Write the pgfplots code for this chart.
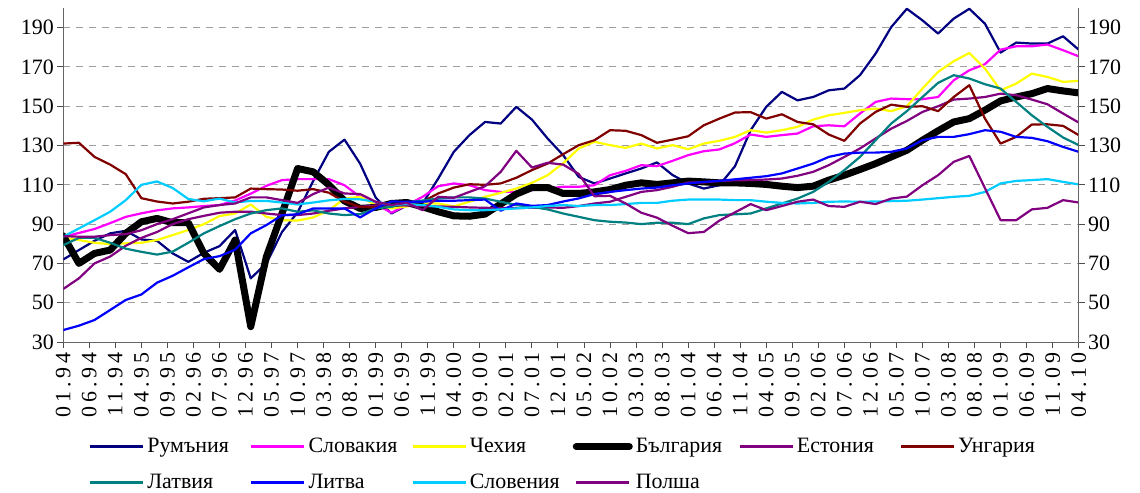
\documentclass[border=0pt]{standalone}
\usepackage{fontspec}
\setmainfont{Liberation Serif}
\usepackage{pgfplots}
\pgfplotsset{compat=1.18}
\usepackage{pgfplotstable}
\definecolor{cro}{HTML}{000080}
\definecolor{csk}{HTML}{FF00FF}
\definecolor{ccz}{HTML}{FFFF00}
\definecolor{cee}{HTML}{800080}
\definecolor{chu}{HTML}{800000}
\definecolor{clv}{HTML}{008080}
\definecolor{clt}{HTML}{0000FF}
\definecolor{csi}{HTML}{00CCFF}
\definecolor{cpl}{HTML}{800080}
\pgfplotstableread{
m ro sk cz bg ee hu lv lt si pl
0 72 83.5 83.2 84 57 131 79.3 36.1 83.6 83.9
3 76.8 85.5 81.9 70 62.4 131.4 83 38.3 87.8 83.6
6 81.5 87.5 80.5 75.1 70 124.2 83 41.2 92 83.6
9 85.3 90.5 79.8 76.8 73.5 120.3 80.5 46.3 96.3 84.4
12 86.6 93.7 80.2 85.3 79 115.4 77.5 51.4 102.2 84.9
15 82.2 95.5 80.5 91.2 83 103.2 75.9 54.2 110 86.9
18 81.5 97 81.9 92.9 86 101.5 74.5 60.2 111.7 90
21 75.1 98 84.4 90.7 90 100.5 76 63.7 108.4 92.5
24 70.8 98.5 87 90.7 92.5 101.4 80.5 68 102.8 95.5
27 75.4 99.2 90 75.1 94.2 102.9 85.3 72.2 101.6 98.5
30 78.8 99.7 94.1 67 95.8 103.2 89 73.7 103 99.7
33 87 102 95.4 81.9 96.3 103.6 92.5 77 101 100.5
36 62.4 105.5 100 37.8 96.3 108.1 95.4 85.3 101.8 103.6
39 70 109.5 93.7 73.4 95.4 107.8 97.1 89.5 101.8 103.6
42 86 112.4 92 95.4 94.6 107.6 98 94.5 101 102.2
45 96 112.9 91.8 118.3 94.6 107 96.3 95 100 100.8
48 112 112.9 93.4 116.6 95.4 107.8 97 98 101 105.3
51 126.8 112.9 97 110 96.8 106 95.4 98 102.1 108.6
54 133 109.8 103 101.8 98 101.4 94.6 98 102.8 105.6
57 120.8 103.9 103.9 98 98.8 98.8 95.1 93.4 102.6 105.3
60 103.5 100.2 99.7 98.5 99.5 98.5 98 98 101.4 101.4
63 95.4 95.8 98 100.5 99.7 99 98.8 101.5 99.7 99.7
66 99.5 99.7 99 101 99.5 100.5 101 101.4 100.2 100.8
69 100.5 103.9 100.5 98.8 99.2 101.4 102 101.4 99.7 97.1
72 113.2 109.3 100.5 96.3 99 105.6 103 101.9 98.8 103.9
75 126.8 110.7 99 94.2 98.8 108.6 103.6 101.9 97.5 103.4
78 135.3 109.8 101.4 94 98.5 110.3 103.6 102.2 97.1 106.4
81 142 107.3 103.9 95.1 98.3 110 103 102.5 97.1 109.3
84 141.2 106.4 105.9 100.2 98.2 110.7 101.4 96.8 97.5 116.6
87 149.7 106.4 108.1 105.3 98.2 113.6 99.7 100.5 98 127.3
90 143.2 107.3 111 108.6 98.3 117.5 98.8 99.3 98.5 118.8
93 133.6 108.1 114.9 108.6 98.5 120.8 97.5 99.7 99.2 121.2
96 125.1 109 121 105.6 98.3 125.6 95.4 101.5 99.7 120.3
99 114 109 128.5 105.6 99.2 130.2 93.7 103.1 99.2 115.5
102 110.7 109.8 131.9 106.4 100.5 132.7 92 105.3 99.7 104.2
105 113.2 114.9 130.2 107.6 101.4 137.8 91.2 106.4 99.7 104.4
108 115.8 117.1 128.8 109.8 103.9 137.5 90.8 107.3 100.2 100.5
111 118.3 120 131 111 106.4 135.3 90 108.1 100.8 95.8
114 121.4 119.5 128.5 110.2 107.3 131.4 90.7 108.6 100.8 93.3
117 115 122.2 130.2 111 109 133 90.7 109.8 101.9 89.2
120 110.7 125.1 128.1 111.9 111.2 134.7 90 110.7 102.5 85.4
123 108.1 127.1 131 111.5 111.2 140.3 92.9 111.5 102.5 86
126 109.8 128 132.4 111 112 143.7 94.6 112 102.5 91.8
129 119.5 131.2 134.4 111 112.3 146.8 95 112.8 102.2 96
132 137.8 135.6 137.8 110.7 112.4 147 95.4 113.6 102.2 100.2
135 149.7 134.4 136.6 110.2 112.7 143.7 98 114.4 101.4 97.1
138 157.3 135.3 137.8 109.3 113.2 145.9 100.5 115.8 100.8 99.2
141 153 136.1 139.5 108.6 114.6 142 103 118.3 100.5 101.4
144 154.7 139.8 143.2 109.3 116.6 140.8 106.4 120.8 100.8 102.5
147 158.1 140.3 145.4 112.4 120 135.6 111.5 124.2 101.4 99.2
150 159 139.8 146.6 114.9 124.2 132.4 117.5 125.9 101.5 98.8
153 165.8 146.3 148 117.8 128.5 141.2 124.2 126.4 101.4 101.4
156 176.8 152.2 148.8 120.8 133.6 147.1 132.7 126.4 101.5 100.2
159 190.3 153.9 147.5 124.2 138.6 150.8 141.2 126.8 101.7 103
162 199.6 153.6 150 127.6 142.5 149.7 147.5 128.5 101.9 104
165 193.7 153.6 159 132.7 147.1 150 154.7 132.7 102.5 109.8
168 187 154.7 167.5 137.5 150 147.5 161.9 134.4 103.2 114.9
171 194.6 163.2 172.9 142 153.4 154.7 165.8 134.4 103.9 121.7
174 199.6 168.3 177.1 143.7 153.9 160.7 164.1 135.8 104.4 124.7
177 192 171.4 169.2 148 154.7 143.7 161.2 137.8 106.4 108.3
180 177.3 178.8 158.1 152.7 156.4 131 159 137 110.7 92
183 182.4 180.5 161.5 154.7 155.6 134.4 152.2 134.4 112 92
186 181.9 180.5 166.6 156.4 153.4 140.7 145.4 133.9 112.4 97.5
189 181.9 181.4 164.9 159 151 140.8 139.5 132.2 112.9 98.3
192 185.6 178.5 162.4 157.8 146.3 140 134.1 129.3 111.5 102.2
195 178.8 175.4 162.9 156.8 141.7 135.3 130.2 126.8 110.2 101
}\data
\newcommand\tfont{\fontsize{22}{24}\selectfont}
\begin{document}
\begin{tikzpicture}
\useasboundingbox (-63.3bp,-151bp) rectangle (1076.7bp,342bp);
\begin{axis}[
  at={(0,0)}, anchor=south west,
  scale only axis, width=1015.4bp, height=334bp,
  xmin=0, xmax=195, ymin=30, ymax=200,
  axis x line*=bottom, axis y line*=left,
  axis line style={draw=black!60, line width=1bp},
  tick style={draw=black!70, line width=1bp},
  tick align=outside, major tick length=6bp,
  xtick={0,5,...,195},
  xticklabels={01.94,06.94,11.94,04.95,09.95,02.96,07.96,12.96,05.97,10.97,03.98,08.98,01.99,06.99,11.99,04.00,09.00,02.01,07.01,12.01,05.02,10.02,03.03,08.03,01.04,06.04,11.04,04.05,09.05,02.06,07.06,12.06,05.07,10.07,03.08,08.08,01.09,06.09,11.09,04.10},
  xticklabel style={rotate=90, anchor=east, font=\tfont\addfontfeature{LetterSpace=18}, inner sep=4bp},
  ytick={30,50,...,190},
  yticklabel style={font=\tfont},
  /pgf/number format/assume math mode=true,
  ymajorgrids,
  grid style={draw=black!38, dash pattern=on 7bp off 6bp, line width=1bp},
  legend columns=6,
  legend cell align=left,
  legend image code/.code={\draw[#1] (0bp,0bp) -- (53bp,0bp);},
  legend style={draw=none, fill=none, at={(0.0253,-0.281)}, anchor=north west,
    inner sep=0pt, column sep=0pt, row sep=15bp, font=\tfont,
    nodes={text width=100bp, inner xsep=3bp, inner ysep=0pt, text height=16bp, text depth=5bp, align=left}},
  every axis plot/.append style={line join=round},
]
\addplot[cro, line width=2.2bp] table[x=m, y=ro] {\data};
\addlegendentry{Румъния}
\addplot[csk, line width=2.2bp] table[x=m, y=sk] {\data};
\addlegendentry{Словакия}
\addplot[ccz, line width=2.2bp] table[x=m, y=cz] {\data};
\addlegendentry{Чехия}
\addplot[black, line width=7bp, line cap=round] table[x=m, y=bg] {\data};
\addlegendentry{България}
\addplot[cee, line width=2.2bp] table[x=m, y=ee] {\data};
\addlegendentry{Естония}
\addplot[chu, line width=2.2bp] table[x=m, y=hu] {\data};
\addlegendentry{Унгария}
\addplot[clv, line width=2.2bp] table[x=m, y=lv] {\data};
\addlegendentry{Латвия}
\addplot[clt, line width=2.2bp] table[x=m, y=lt] {\data};
\addlegendentry{Литва}
\addplot[csi, line width=2.2bp] table[x=m, y=si] {\data};
\addlegendentry{Словения}
\addplot[cpl, line width=2.2bp] table[x=m, y=pl] {\data};
\addlegendentry{Полша}
\end{axis}
\begin{axis}[
  at={(0,0)}, anchor=south west,
  scale only axis, width=1015.4bp, height=334bp,
  xmin=0, xmax=195, ymin=30, ymax=200,
  axis x line=none, axis y line*=right,
  axis line style={draw=black!60, line width=1bp},
  tick style={draw=black!70, line width=1bp},
  tick align=outside, major tick length=6bp,
  ytick={30,50,...,190},
  yticklabel style={font=\tfont},
  /pgf/number format/assume math mode=true,
]
\addplot[draw=none] coordinates {(0,100)};
\end{axis}
\end{tikzpicture}
\end{document}
